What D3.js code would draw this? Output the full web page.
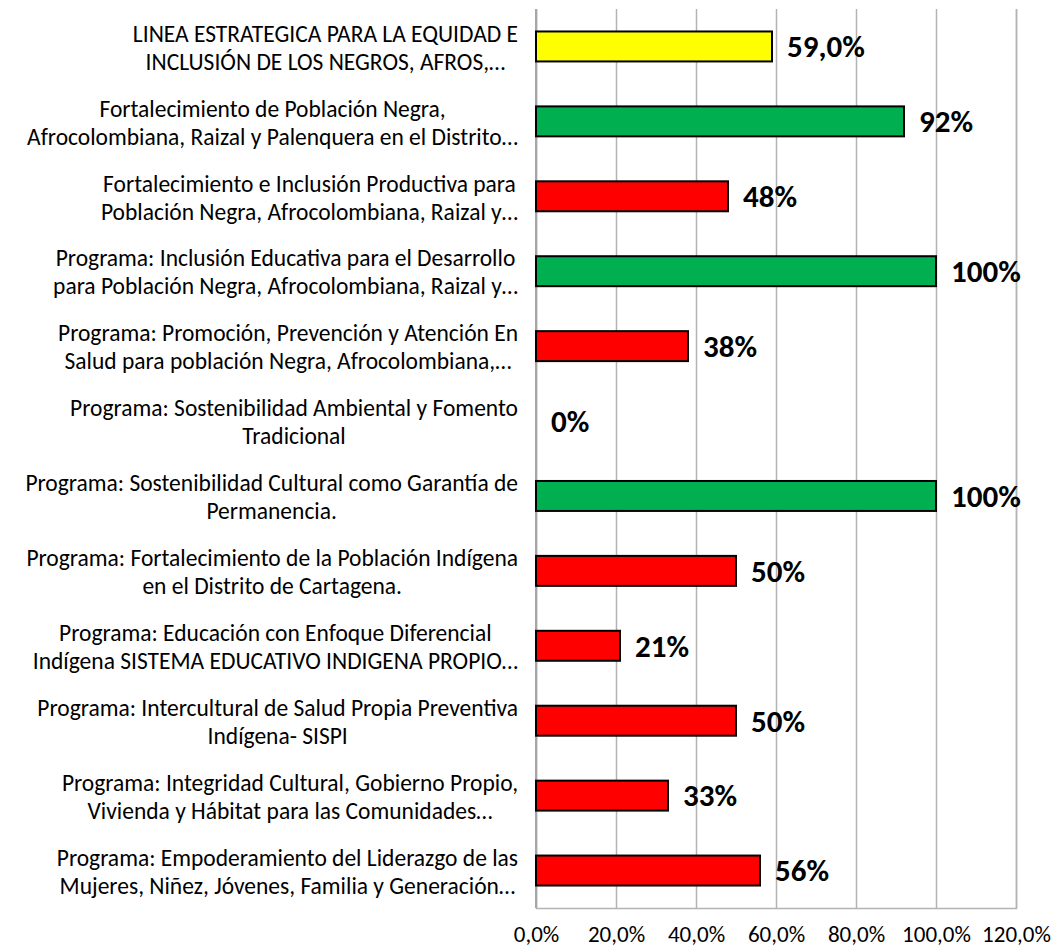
<!DOCTYPE html>
<html lang="es">
<head>
<meta charset="UTF-8">
<title>Avance de programas</title>
<script src="https://d3js.org/d3.v7.min.js"></script>
<style>
  body { margin: 0; background: #fff; }
  svg text { font-family: Carlito, Lato, sans-serif; fill: #000; }
  .cat { font-size: 23.5px; }
  .val { font-size: 31px; font-weight: bold; }
  .tick text { font-size: 23px; }
</style>
</head>
<body>
<svg width="1057" height="952"></svg>
<script>
// category labels, already wrapped as in the original chart
const categories = [
  ["LINEA ESTRATEGICA PARA LA EQUIDAD E", "INCLUSIÓN DE LOS NEGROS, AFROS,…"],
  ["Fortalecimiento de Población Negra,", "Afrocolombiana, Raizal y Palenquera en el Distrito…"],
  ["Fortalecimiento e Inclusión Productiva para", "Población Negra, Afrocolombiana, Raizal y…"],
  ["Programa: Inclusión Educativa para el Desarrollo", "para Población Negra, Afrocolombiana, Raizal y…"],
  ["Programa: Promoción, Prevención y Atención En", "Salud para población Negra, Afrocolombiana,…"],
  ["Programa: Sostenibilidad Ambiental y Fomento", "Tradicional"],
  ["Programa: Sostenibilidad Cultural como Garantía de", "Permanencia."],
  ["Programa: Fortalecimiento de la Población Indígena", "en el Distrito de Cartagena."],
  ["Programa: Educación con Enfoque Diferencial", "Indígena SISTEMA EDUCATIVO INDIGENA PROPIO…"],
  ["Programa: Intercultural de Salud Propia Preventiva", "Indígena- SISPI"],
  ["Programa: Integridad Cultural, Gobierno Propio,", "Vivienda y Hábitat para las Comunidades…"],
  ["Programa: Empoderamiento del Liderazgo de las", "Mujeres, Niñez, Jóvenes, Familia y Generación…"]
];
const values = [0.59, 0.92, 0.48, 1.00, 0.38, 0.00, 1.00, 0.50, 0.21, 0.50, 0.33, 0.56];
const valueLabels = ["59,0%", "92%", "48%", "100%", "38%", "0%", "100%", "50%", "21%", "50%", "33%", "56%"];
const barColors = ["#ffff00", "#00b050", "#ff0000", "#00b050", "#ff0000", "#ff0000",
                   "#00b050", "#ff0000", "#ff0000", "#ff0000", "#ff0000", "#ff0000"];
const tickValues = [0, 0.2, 0.4, 0.6, 0.8, 1.0, 1.2];
const tickLabels = ["0,0%", "20,0%", "40,0%", "60,0%", "80,0%", "100,0%", "120,0%"];

const svg = d3.select("svg");
const plot = { left: 536, right: 1016, top: 9, bottom: 908 };
const labelRight = 518;

const x = d3.scaleLinear().domain([0, 1.2]).range([plot.left, plot.right]);
const y = d3.scaleBand()
  .domain(d3.range(categories.length))
  .range([plot.top, plot.bottom])
  .paddingInner(0.6)
  .paddingOuter(0.3);

// grid + bottom axis
const xAxis = d3.axisBottom(x)
  .tickValues(tickValues)
  .tickFormat((d, i) => tickLabels[i])
  .tickSize(-(plot.bottom - plot.top))
  .tickPadding(16);

const gx = svg.append("g")
  .attr("transform", `translate(0,${plot.bottom})`)
  .call(xAxis);
gx.select(".domain").attr("stroke", "#b3b3b3").attr("stroke-width", 1.5);
gx.selectAll(".tick line").attr("stroke", "#b3b3b3").attr("stroke-width", 1.5);
gx.selectAll(".tick text").attr("fill", "#000").attr("dy", "0.35em").attr("y", 26);

// vertical axis line at zero
svg.append("line")
  .attr("x1", x(0)).attr("x2", x(0))
  .attr("y1", plot.top).attr("y2", plot.bottom)
  .attr("stroke", "#a6a6a6").attr("stroke-width", 2);

// bars
svg.append("g").selectAll("rect")
  .data(values)
  .enter()
  .append("rect")
  .attr("x", x(0))
  .attr("y", (d, i) => y(i))
  .attr("width", d => x(d) - x(0))
  .attr("height", y.bandwidth())
  .attr("fill", (d, i) => barColors[i])
  .attr("stroke", d => d > 0 ? "#000" : "none")
  .attr("stroke-width", 2);

// value labels
svg.append("g").selectAll("text")
  .data(values)
  .enter()
  .append("text")
  .attr("class", "val")
  .attr("x", d => x(d) + 15)
  .attr("y", (d, i) => y(i) + y.bandwidth() / 2)
  .attr("dy", "0.35em")
  .text((d, i) => valueLabels[i]);

// category labels: block right-aligned, lines centred inside the block
const lineGap = 28;
const gl = svg.append("g");
categories.forEach(function (lines, i) {
  const cy = y(i) + y.bandwidth() / 2 + 1;
  const texts = lines.map(function (t, k) {
    return gl.append("text")
      .attr("class", "cat")
      .attr("text-anchor", "middle")
      .attr("y", cy + (k - (lines.length - 1) / 2) * lineGap)
      .attr("dy", "0.35em")
      .text(t);
  });
  const w = d3.max(texts, t => t.node().getComputedTextLength());
  texts.forEach(t => t.attr("x", labelRight - w / 2));
});
</script>
</body>
</html>
